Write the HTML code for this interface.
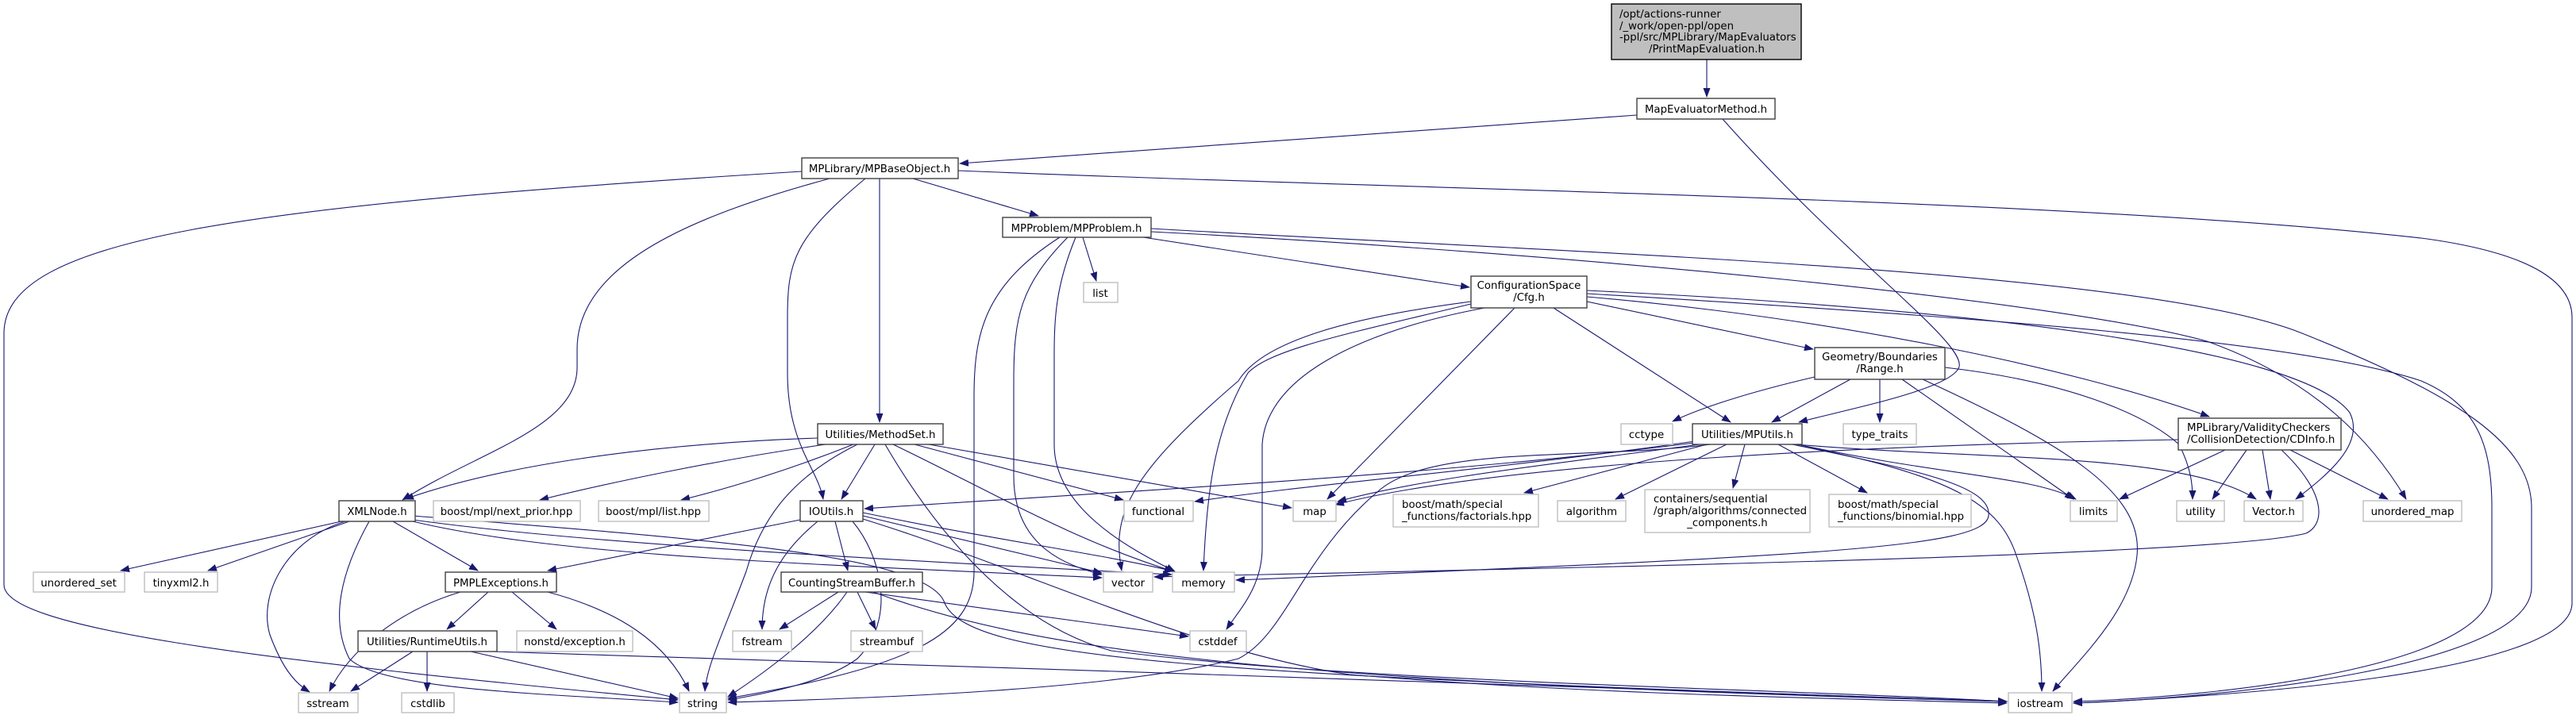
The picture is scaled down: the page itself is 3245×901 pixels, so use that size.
<!DOCTYPE html>
<html><head><meta charset="utf-8"><style>
html,body{margin:0;padding:0;background:#fff;}
svg{display:block;}
text{font-family:"DejaVu Sans","Liberation Sans",sans-serif;font-size:13.3px;fill:#000;}
.d{fill:#fff;stroke:#404040;stroke-width:1.4;}
.x{fill:#fff;stroke:#bfbfbf;stroke-width:1.4;}
.e{fill:none;stroke:#191970;stroke-width:1.1;marker-end:url(#a);}
</style></head><body>
<svg width="3245" height="901" viewBox="0 0 3245 901" xmlns="http://www.w3.org/2000/svg">
<defs><marker id="a" markerWidth="12" markerHeight="10" refX="11" refY="4.5" orient="auto" markerUnits="userSpaceOnUse"><path d="M0,0 L12,4.5 L0,9 z" fill="#191970"/></marker></defs>
<g>
<path class="e" d="M2150 75 L2150 122"/>
<path class="e" d="M2062 145 L1209 206"/>
<path class="e" d="M2170 150 C2330 330 2475 430 2468 462 C2460 490 2330 515 2266 532"/>
<path class="e" d="M1010 216 C300 260 5 300 5 420 L5 737 C5 790 300 830 854 882"/>
<path class="e" d="M1045 225 C880 270 727 330 727 440 L727 463 C727 540 600 570 507 630"/>
<path class="e" d="M1090 225 C1000 300 992 330 992 400 L992 470 C992 560 1030 590 1037 629"/>
<path class="e" d="M1108 225 L1108 532"/>
<path class="e" d="M1150 225 L1308 272"/>
<path class="e" d="M1207 215 C1800 240 2600 250 3050 300 C3200 320 3240 360 3240 400 L3240 760 C3240 850 2800 878 2612 886"/>
<path class="e" d="M1364 299 L1381 354"/>
<path class="e" d="M1440 299 L1851 362"/>
<path class="e" d="M1335 299 C1240 360 1227 420 1227 500 L1227 720 C1227 800 1150 840 917 880"/>
<path class="e" d="M1345 299 C1285 360 1277 400 1277 480 L1277 600 C1277 680 1330 710 1388 724"/>
<path class="e" d="M1355 299 C1330 360 1328 400 1328 450 L1328 560 C1328 640 1420 690 1480 720"/>
<path class="e" d="M1450 288 C2000 320 2700 340 2900 420 C3100 500 3189 560 3189 640 L3189 740 C3189 840 2800 880 2612 886"/>
<path class="e" d="M1450 292 C2000 320 2600 380 2780 430 C2920 480 2990 560 3031 629"/>
<path class="e" d="M1999 370 C2500 400 2900 430 3050 480 C3120 510 3139 560 3139 640 L3139 740 C3139 840 2800 878 2612 884"/>
<path class="e" d="M1999 380 L2284 440"/>
<path class="e" d="M1957 388 L2180 532"/>
<path class="e" d="M1999 374 C2300 400 2600 460 2783 525"/>
<path class="e" d="M1908 388 L1672 629"/>
<path class="e" d="M1853 380 C1700 400 1590 430 1560 480 C1420 600 1400 650 1413 719"/>
<path class="e" d="M1853 383 C1700 420 1600 440 1572 470 C1530 540 1520 620 1516 719"/>
<path class="e" d="M1870 388 C1700 420 1595 480 1590 560 L1590 690 C1590 740 1560 770 1545 793"/>
<path class="e" d="M1999 366 C2500 390 2900 440 2960 520 C2980 560 2930 600 2892 629"/>
<path class="e" d="M2286 475 C2200 495 2140 515 2107 531"/>
<path class="e" d="M2331 478 L2232 532"/>
<path class="e" d="M2368 478 L2368 532"/>
<path class="e" d="M2396 478 L2612 629"/>
<path class="e" d="M2422 478 C2600 560 2700 620 2692 700 C2685 770 2620 830 2586 871"/>
<path class="e" d="M2450 463 C2600 480 2700 520 2745 560 C2760 590 2762 610 2762 629"/>
<path class="e" d="M2140 560 C2000 580 1800 600 1685 632"/>
<path class="e" d="M2135 558 C1800 600 1400 620 1089 641"/>
<path class="e" d="M2135 556 C1900 590 1650 610 1505 632"/>
<path class="e" d="M2150 560 L1920 621"/>
<path class="e" d="M2175 560 L2035 629"/>
<path class="e" d="M2198 560 L2183 615"/>
<path class="e" d="M2240 560 L2352 621"/>
<path class="e" d="M2265 560 C2450 600 2560 600 2615 629"/>
<path class="e" d="M2262 560 C2500 580 2750 570 2842 629"/>
<path class="e" d="M2258 560 C2470 600 2520 640 2540 700 C2565 770 2572 820 2572 871"/>
<path class="e" d="M2258 560 C2400 590 2510 610 2505 650 C2500 690 2300 700 1557 731"/>
<path class="e" d="M2155 560 C2000 580 1800 560 1735 620 C1640 700 1620 800 1560 830 C1400 870 1100 880 917 885"/>
<path class="e" d="M2744 554 C2400 560 1900 580 1682 636"/>
<path class="e" d="M2803 567 L2670 629"/>
<path class="e" d="M2830 567 L2787 629"/>
<path class="e" d="M2850 567 L2860 629"/>
<path class="e" d="M2885 567 L3008 629"/>
<path class="e" d="M2874 567 C2930 620 2930 660 2905 672 C2800 700 2000 715 1454 727"/>
<path class="e" d="M1030 552 C800 560 620 590 510 629"/>
<path class="e" d="M1040 560 C900 580 760 610 680 630"/>
<path class="e" d="M1075 560 C1000 590 920 615 858 630"/>
<path class="e" d="M1080 560 C1000 600 960 650 940 720 C910 800 890 840 888 871"/>
<path class="e" d="M1102 560 L1060 629"/>
<path class="e" d="M1152 560 L1415 630"/>
<path class="e" d="M1170 560 L1627 640"/>
<path class="e" d="M1125 560 C1250 620 1350 680 1478 720"/>
<path class="e" d="M1115 560 C1150 620 1250 780 1400 820 C1700 860 2300 870 2528 884"/>
<path class="e" d="M430 657 L152 719"/>
<path class="e" d="M440 657 L262 719"/>
<path class="e" d="M435 657 C360 680 325 750 340 800 C355 840 370 860 390 872"/>
<path class="e" d="M465 657 C430 720 415 780 440 830 C480 870 700 875 854 885"/>
<path class="e" d="M495 657 L602 719"/>
<path class="e" d="M520 657 C700 700 1000 710 1388 728"/>
<path class="e" d="M520 655 C700 680 1000 700 1476 724"/>
<path class="e" d="M520 650 C900 680 1170 700 1190 760 C1220 830 1500 850 2528 884"/>
<path class="e" d="M1008 655 L690 719"/>
<path class="e" d="M1030 657 C990 690 960 730 960 793"/>
<path class="e" d="M1052 657 L1068 719"/>
<path class="e" d="M1074 657 C1110 700 1130 780 1080 830 C1040 860 960 875 917 882"/>
<path class="e" d="M1087 650 L1388 722"/>
<path class="e" d="M1087 646 C1250 680 1400 700 1478 720"/>
<path class="e" d="M1087 654 C1300 720 1500 820 1700 850 C2000 875 2300 880 2528 886"/>
<path class="e" d="M615 746 L563 793"/>
<path class="e" d="M645 746 L701 793"/>
<path class="e" d="M690 746 C780 770 840 810 868 871"/>
<path class="e" d="M580 746 C500 770 440 820 415 871"/>
<path class="e" d="M520 821 L442 871"/>
<path class="e" d="M538 821 L538 871"/>
<path class="e" d="M593 821 L854 880"/>
<path class="e" d="M620 821 C1200 840 2200 870 2528 884"/>
<path class="e" d="M1056 746 L982 793"/>
<path class="e" d="M1080 746 L1103 793"/>
<path class="e" d="M1067 746 C1030 800 960 850 917 878"/>
<path class="e" d="M1090 746 L1497 802"/>
<path class="e" d="M1100 746 C1300 820 1600 860 2528 884"/>
</g>
<g>
<rect x="2030" y="5" width="239" height="70" fill="#bfbfbf" stroke="#000" stroke-width="1.4"/>
<text x="2040" y="22">/opt/actions-runner</text>
<text x="2040" y="37">/_work/open-ppl/open</text>
<text x="2040" y="51">-ppl/src/MPLibrary/MapEvaluators</text>
<text x="2150" y="66" text-anchor="middle">/PrintMapEvaluation.h</text>

<rect class="d" x="2062" y="124" width="174" height="26"/><text x="2149" y="142" text-anchor="middle">MapEvaluatorMethod.h</text>
<rect class="d" x="1010" y="199" width="197" height="26"/><text x="1108" y="217" text-anchor="middle">MPLibrary/MPBaseObject.h</text>
<rect class="d" x="1263" y="274" width="187" height="25"/><text x="1356" y="292" text-anchor="middle">MPProblem/MPProblem.h</text>
<rect class="x" x="1365" y="356" width="43" height="25"/><text x="1386" y="374" text-anchor="middle">list</text>
<rect class="d" x="1853" y="348" width="146" height="40"/><text x="1926" y="364" text-anchor="middle">ConfigurationSpace</text><text x="1926" y="379" text-anchor="middle">/Cfg.h</text>
<rect class="d" x="2286" y="438" width="164" height="40"/><text x="2368" y="454" text-anchor="middle">Geometry/Boundaries</text><text x="2368" y="469" text-anchor="middle">/Range.h</text>
<rect class="d" x="1030" y="534" width="158" height="26"/><text x="1109" y="552" text-anchor="middle">Utilities/MethodSet.h</text>
<rect class="x" x="2042" y="534" width="65" height="26"/><text x="2074" y="552" text-anchor="middle">cctype</text>
<rect class="d" x="2132" y="534" width="138" height="26"/><text x="2201" y="552" text-anchor="middle">Utilities/MPUtils.h</text>
<rect class="x" x="2322" y="534" width="92" height="26"/><text x="2368" y="552" text-anchor="middle">type_traits</text>
<rect class="d" x="2744" y="527" width="205" height="40"/><text x="2755" y="543">MPLibrary/ValidityCheckers</text><text x="2755" y="558">/CollisionDetection/CDInfo.h</text>

<rect class="d" x="427" y="631" width="96" height="26"/><text x="475" y="649" text-anchor="middle">XMLNode.h</text>
<rect class="x" x="546" y="631" width="185" height="26"/><text x="638" y="649" text-anchor="middle">boost/mpl/next_prior.hpp</text>
<rect class="x" x="754" y="631" width="139" height="26"/><text x="823" y="649" text-anchor="middle">boost/mpl/list.hpp</text>
<rect class="d" x="1008" y="631" width="79" height="26"/><text x="1047" y="649" text-anchor="middle">IOUtils.h</text>
<rect class="x" x="1416" y="631" width="87" height="26"/><text x="1459" y="649" text-anchor="middle">functional</text>
<rect class="x" x="1629" y="631" width="54" height="26"/><text x="1656" y="649" text-anchor="middle">map</text>
<rect class="x" x="1755" y="623" width="183" height="41"/><text x="1766" y="640">boost/math/special</text><text x="1766" y="655">_functions/factorials.hpp</text>
<rect class="x" x="1962" y="631" width="86" height="26"/><text x="2005" y="649" text-anchor="middle">algorithm</text>
<rect class="x" x="2072" y="617" width="208" height="54"/><text x="2083" y="633">containers/sequential</text><text x="2083" y="648">/graph/algorithms/connected</text><text x="2176" y="663" text-anchor="middle">_components.h</text>
<rect class="x" x="2304" y="623" width="179" height="41"/><text x="2315" y="640">boost/math/special</text><text x="2315" y="655">_functions/binomial.hpp</text>
<rect class="x" x="2608" y="631" width="59" height="26"/><text x="2637" y="649" text-anchor="middle">limits</text>
<rect class="x" x="2742" y="631" width="60" height="26"/><text x="2772" y="649" text-anchor="middle">utility</text>
<rect class="x" x="2827" y="631" width="74" height="26"/><text x="2864" y="649" text-anchor="middle">Vector.h</text>
<rect class="x" x="2977" y="631" width="124" height="26"/><text x="3039" y="649" text-anchor="middle">unordered_map</text>

<rect class="x" x="42" y="721" width="115" height="25"/><text x="99" y="739" text-anchor="middle">unordered_set</text>
<rect class="x" x="182" y="721" width="92" height="25"/><text x="228" y="739" text-anchor="middle">tinyxml2.h</text>
<rect class="d" x="561" y="721" width="140" height="25"/><text x="631" y="739" text-anchor="middle">PMPLExceptions.h</text>
<rect class="d" x="984" y="721" width="178" height="25"/><text x="1073" y="739" text-anchor="middle">CountingStreamBuffer.h</text>
<rect class="x" x="1390" y="721" width="62" height="25"/><text x="1421" y="739" text-anchor="middle">vector</text>
<rect class="x" x="1477" y="721" width="78" height="25"/><text x="1516" y="739" text-anchor="middle">memory</text>

<rect class="d" x="451" y="795" width="175" height="26"/><text x="538" y="813" text-anchor="middle">Utilities/RuntimeUtils.h</text>
<rect class="x" x="651" y="795" width="146" height="26"/><text x="724" y="813" text-anchor="middle">nonstd/exception.h</text>
<rect class="x" x="923" y="795" width="74" height="26"/><text x="960" y="813" text-anchor="middle">fstream</text>
<rect class="x" x="1072" y="795" width="90" height="26"/><text x="1117" y="813" text-anchor="middle">streambuf</text>
<rect class="x" x="1499" y="795" width="71" height="26"/><text x="1534" y="813" text-anchor="middle">cstddef</text>

<rect class="x" x="376" y="873" width="75" height="25"/><text x="413" y="891" text-anchor="middle">sstream</text>
<rect class="x" x="506" y="873" width="66" height="25"/><text x="539" y="891" text-anchor="middle">cstdlib</text>
<rect class="x" x="856" y="873" width="59" height="25"/><text x="885" y="891" text-anchor="middle">string</text>
<rect class="x" x="2530" y="873" width="80" height="25"/><text x="2570" y="891" text-anchor="middle">iostream</text>
</g>
</svg>
</body></html>
